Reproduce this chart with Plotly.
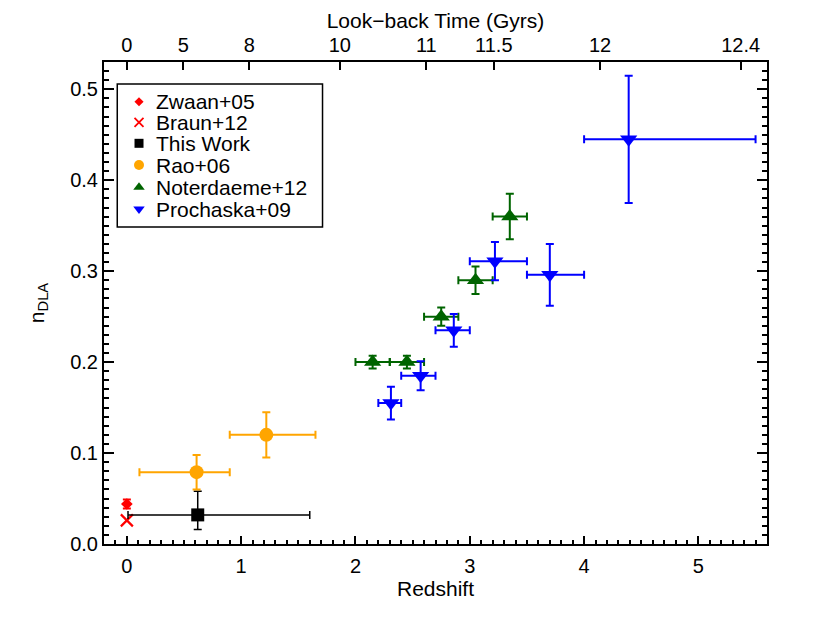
import plotly.graph_objects as go

# ---------------- data ----------------
# Zwaan+05
zw_z = [0.0]
zw_n = [0.044]
zw_nerr = [0.005]

# Braun+12
br_z = [0.0]
br_n = [0.026]

# This Work
tw_z = [0.62]
tw_n = [0.032]
tw_zerr_minus = [0.61]
tw_zerr_plus = [0.98]
tw_nerr_minus = [0.016]
tw_nerr_plus = [0.026]

# Rao+06
rao_z = [0.61, 1.22]
rao_n = [0.079, 0.120]
rao_zerr_minus = [0.50, 0.32]
rao_zerr_plus = [0.29, 0.43]
rao_nerr = [0.019, 0.025]

# Noterdaeme+12
nd_z = [2.15, 2.45, 2.75, 3.05, 3.35]
nd_n = [0.200, 0.200, 0.250, 0.290, 0.360]
nd_zerr = [0.15, 0.15, 0.15, 0.15, 0.15]
nd_nerr = [0.007, 0.007, 0.010, 0.015, 0.025]

# Prochaska+09
pw_z = [2.31, 2.57, 2.86, 3.22, 3.70, 4.39]
pw_n = [0.155, 0.185, 0.235, 0.311, 0.296, 0.445]
pw_zerr_minus = [0.11, 0.17, 0.16, 0.22, 0.20, 0.39]
pw_zerr_plus = [0.09, 0.13, 0.14, 0.28, 0.30, 1.11]
pw_nerr = [0.018, 0.016, 0.018, 0.021, 0.034, 0.070]

# top axis: look-back time labels and their redshift positions
lb_labels = ["0", "5", "8", "10", "11", "11.5", "12", "12.4"]
lb_redshift = [0.0, 0.494, 1.071, 1.863, 2.62, 3.21, 4.14, 5.37]

# legend entries
leg_names = ["Zwaan+05", "Braun+12", "This Work", "Rao+06", "Noterdaeme+12", "Prochaska+09"]
leg_symbols = ["diamond", "x-thin", "square", "circle", "triangle-up", "triangle-down"]
leg_colors = ["#ff0000", "#ff0000", "#000000", "#ffa500", "#006400", "#0000ff"]
leg_sizes = [7, 9, 9, 10, 10, 10]

FONT = "Liberation Sans, Arial, Helvetica, sans-serif"

fig = go.Figure()

fig.add_trace(go.Scatter(
    x=zw_z, y=zw_n, mode="markers", name="Zwaan+05",
    marker=dict(symbol="diamond", size=9, color="#ff0000"),
    error_y=dict(type="data", array=zw_nerr, color="#ff0000", thickness=2, width=4),
))
fig.add_trace(go.Scatter(
    x=br_z, y=br_n, mode="markers", name="Braun+12",
    marker=dict(symbol="x-thin", size=12, color="#ff0000",
                line=dict(width=2.2, color="#ff0000")),
))
fig.add_trace(go.Scatter(
    x=tw_z, y=tw_n, mode="markers", name="This Work",
    marker=dict(symbol="square", size=13, color="#000000"),
    error_x=dict(type="data", symmetric=False, array=tw_zerr_plus,
                 arrayminus=tw_zerr_minus, color="#000000", thickness=1.5, width=4),
    error_y=dict(type="data", symmetric=False, array=tw_nerr_plus,
                 arrayminus=tw_nerr_minus, color="#000000", thickness=1.5, width=4),
))
fig.add_trace(go.Scatter(
    x=rao_z, y=rao_n, mode="markers", name="Rao+06",
    marker=dict(symbol="circle", size=14, color="#ffa500"),
    error_x=dict(type="data", symmetric=False, array=rao_zerr_plus,
                 arrayminus=rao_zerr_minus, color="#ffa500", thickness=2, width=4),
    error_y=dict(type="data", array=rao_nerr, color="#ffa500", thickness=2, width=4),
))
fig.add_trace(go.Scatter(
    x=nd_z, y=nd_n, mode="markers", name="Noterdaeme+12",
    marker=dict(symbol="triangle-up", size=15, color="#006400"),
    error_x=dict(type="data", array=nd_zerr, color="#006400", thickness=2, width=4),
    error_y=dict(type="data", array=nd_nerr, color="#006400", thickness=2, width=4),
))
fig.add_trace(go.Scatter(
    x=pw_z, y=pw_n, mode="markers", name="Prochaska+09",
    marker=dict(symbol="triangle-down", size=15, color="#0000ff"),
    error_x=dict(type="data", symmetric=False, array=pw_zerr_plus,
                 arrayminus=pw_zerr_minus, color="#0000ff", thickness=2, width=4),
    error_y=dict(type="data", array=pw_nerr, color="#0000ff", thickness=2, width=4),
))
# invisible trace to anchor the top axis
fig.add_trace(go.Scatter(x=[lb_redshift[0]], y=[0.0], xaxis="x2", mode="markers",
                         marker=dict(opacity=0), showlegend=False, hoverinfo="skip"))

# ---- custom legend (drawn on an overlaid helper subplot with 0..1 axes) ----
LEG_X0, LEG_X1, LEG_Y0, LEG_Y1 = 0.020, 0.3296, 0.6577, 0.9544
leg_row_y = [0.9176, 0.8749, 0.8313, 0.7863, 0.7400, 0.6950]
leg_mark_x = 0.0528
leg_text_x = 0.0754

for name, sym, col, sz, yy in zip(leg_names, leg_symbols, leg_colors, leg_sizes, leg_row_y):
    fig.add_trace(go.Scatter(
        x=[leg_mark_x], y=[yy], xaxis="x3", yaxis="y3", mode="markers",
        marker=dict(symbol=sym, size=sz, color=col,
                    line=dict(width=1.8 if sym == "x-thin" else 0, color=col)),
        showlegend=False, hoverinfo="skip",
    ))
    fig.add_annotation(x=leg_text_x, y=yy, xref="paper", yref="paper",
                       text=name, showarrow=False, xanchor="left", yanchor="middle",
                       font=dict(family=FONT, size=21, color="black"))

fig.add_shape(type="rect", xref="paper", yref="paper",
              x0=LEG_X0, x1=LEG_X1, y0=LEG_Y0, y1=LEG_Y1,
              line=dict(color="black", width=1.5), fillcolor="rgba(0,0,0,0)",
              layer="above")

XR = [-0.2, 5.6]
YR = [0.0, 0.53]

fig.update_layout(
    width=830, height=623,
    margin=dict(l=96, r=71, t=54, b=87, autoexpand=False),
    paper_bgcolor="white", plot_bgcolor="rgba(0,0,0,0)",
    font=dict(family=FONT, size=20, color="black"),
    showlegend=False,
    xaxis=dict(
        range=XR, showgrid=False, zeroline=False, automargin=False,
        showline=True, linecolor="black", linewidth=2, mirror=False,
        ticks="inside", ticklen=8, tickwidth=1.5, tickcolor="black",
        dtick=1, tick0=0, ticklabelstandoff=3,
        minor=dict(ticks="inside", ticklen=4, tickwidth=1.5, tickcolor="black", dtick=0.1),
        tickfont=dict(size=20),
        title=dict(text="Redshift", font=dict(size=21), standoff=3),
    ),
    xaxis2=dict(
        range=XR, overlaying="x", side="top", anchor="y", automargin=False,
        showgrid=False, zeroline=False,
        showline=True, linecolor="black", linewidth=2,
        ticks="inside", ticklen=8, tickwidth=1.5, tickcolor="black",
        tickmode="array", tickvals=lb_redshift, ticktext=lb_labels,
        tickfont=dict(size=20),
        title=dict(text="Look\u2212back Time (Gyrs)", font=dict(size=21), standoff=0),
    ),
    yaxis=dict(
        range=YR, showgrid=False, zeroline=False, automargin=False,
        showline=True, linecolor="black", linewidth=2, mirror="ticks",
        ticks="inside", ticklen=10, tickwidth=1.5, tickcolor="black",
        dtick=0.1, tick0=0, tickformat=".1f",
        minor=dict(ticks="inside", ticklen=5, tickwidth=1.5, tickcolor="black", dtick=0.01),
        tickfont=dict(size=20),
        title=dict(text="n<sub>DLA</sub>", font=dict(size=21), standoff=20),
    ),
    xaxis3=dict(overlaying="x", range=[0, 1], anchor="y3", visible=False, fixedrange=True),
    yaxis3=dict(overlaying="y", range=[0, 1], anchor="x3", visible=False, fixedrange=True),
)

fig.write_html("out.html")
